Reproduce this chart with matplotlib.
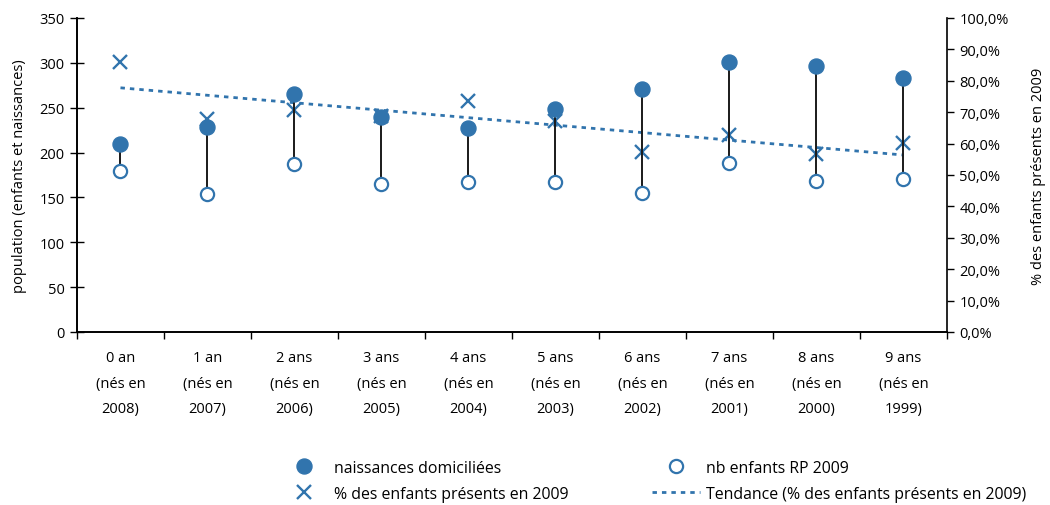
import matplotlib
matplotlib.use('Agg')
import matplotlib.pyplot as plt
from matplotlib.lines import Line2D
from matplotlib.ticker import FuncFormatter, MultipleLocator
import numpy as np

plt.rcParams['font.family'] = ['Open Sans', 'DejaVu Sans']
plt.rcParams['font.size'] = 10.5

# données
categories = ["0 an\n(nés en\n2008)", "1 an\n(nés en\n2007)", "2 ans\n(nés en\n2006)",
              "3 ans\n(nés en\n2005)", "4 ans\n(nés en\n2004)", "5 ans\n(nés en\n2003)",
              "6 ans\n(nés en\n2002)", "7 ans\n(nés en\n2001)", "8 ans\n(nés en\n2000)",
              "9 ans\n(nés en\n1999)"]
naissances = [209, 229, 265, 240, 227, 248, 271, 301, 297, 283]
enfants_rp = [180, 154, 187, 165, 167, 167, 155, 188, 168, 170]
pct_presents = [86.1, 67.7, 70.6, 68.8, 73.6, 67.1, 57.4, 62.6, 56.6, 60.1]

blue = '#3174ad'
x = np.arange(len(categories))

fig = plt.figure(figsize=(10.5, 5.06), dpi=100)
ax = fig.add_axes([0.0733, 0.3419, 0.8286, 0.6206])
ax2 = ax.twinx()

# lignes haut-bas
ax.vlines(x, enfants_rp, naissances, color='#1a1a1a', lw=1.4, zorder=2)
ax.plot(x, naissances, 'o', color=blue, ms=10.8, mec=blue, zorder=3)
ax.plot(x, enfants_rp, 'o', color='white', ms=9.5, mec=blue, mew=1.6, zorder=3)

# axe secondaire : % et tendance linéaire
ax2.plot(x, pct_presents, 'x', color=blue, ms=10, mew=1.7)
coef = np.polyfit(x, pct_presents, 1)
ax2.plot(x, np.polyval(coef, x), color=blue, lw=2, ls=(0, (1.6, 1.8)))

ax.set_zorder(ax2.get_zorder() + 1)
ax.patch.set_visible(False)

ax.set_xlim(-0.5, 9.5)
ax.set_ylim(0, 350)
ax.yaxis.set_major_locator(MultipleLocator(50))
ax2.set_ylim(0, 100)
ax2.yaxis.set_major_locator(MultipleLocator(10))
ax2.yaxis.set_major_formatter(FuncFormatter(lambda v, p: f"{v:.1f}%".replace('.', ',')))

ax.set_xticks(np.arange(-0.5, 10, 1))
ax.set_xticklabels([])
ax.set_xticks(x, minor=True)
ax.set_xticklabels(categories, minor=True, linespacing=1.95)
ax.tick_params(axis='x', which='major', direction='out', length=5, width=1)
ax.tick_params(axis='x', which='minor', length=0, pad=13)
ax.tick_params(axis='y', direction='inout', length=10, width=1, pad=4)
ax2.tick_params(axis='y', direction='out', length=5, width=1, pad=4)

for a in (ax, ax2):
    a.spines['top'].set_visible(False)
    for s in a.spines.values():
        s.set_linewidth(1.2)
ax.spines['right'].set_visible(False)

ax.set_ylabel("population (enfants et naissances)", labelpad=9)
ax2.set_ylabel("% des enfants présents en 2009", labelpad=16)

handles = [
    Line2D([], [], ls='none', marker='o', color=blue, ms=10.8),
    Line2D([], [], ls='none', marker='x', color=blue, ms=10, mew=1.7),
    Line2D([], [], ls='none', marker='o', mfc='white', mec=blue, ms=9.5, mew=1.6),
    Line2D([], [], color=blue, lw=2, ls=(0, (1.6, 1.8))),
]
labels = ["naissances domiciliées", "% des enfants présents en 2009",
          "nb enfants RP 2009", "Tendance (% des enfants présents en 2009)"]
fig.legend(handles, labels, ncol=2, loc='upper left', fontsize=11.4,
           bbox_to_anchor=(272 / 1050, 1 - 453 / 506), frameon=False,
           borderpad=0, handlelength=3.0, handletextpad=0.4,
           columnspacing=5.3, labelspacing=0.62)

plt.savefig('out.png', dpi=100)
plt.close()
